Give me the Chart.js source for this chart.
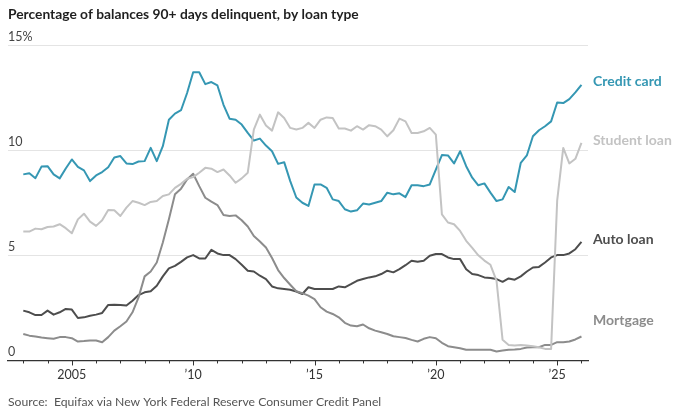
<!DOCTYPE html>
<html>
<head>
<meta charset="utf-8">
<script src="https://cdn.jsdelivr.net/npm/chart.js@4/dist/chart.umd.min.js"></script>
<style>
  html, body { margin: 0; padding: 0; background: #fff; }
  #wrap { width: 680px; height: 412px; position: relative; }
</style>
</head>
<body>
<div id="wrap"><canvas id="myChart"></canvas></div>
<script>
/* Data: quarterly, first quarter of 2003 through first quarter of 2026 */
var firstYear = 2003;

var creditCard = [8.85, 8.9, 8.67, 9.22, 9.24, 8.85, 8.66, 9.13, 9.56, 9.21, 9.04, 8.53, 8.8, 8.96, 9.19, 9.65,
  9.72, 9.37, 9.34, 9.46, 9.48, 10.11, 9.48, 10.19, 11.45, 11.74, 11.9, 12.72, 13.71, 13.71, 13.14, 13.24,
  13.08, 12.16, 11.5, 11.45, 11.22, 10.82, 10.46, 10.55, 10.22, 9.95, 9.35, 9.43, 8.53, 7.75, 7.5, 7.35,
  8.37, 8.37, 8.21, 7.66, 7.58, 7.19, 7.08, 7.14, 7.46, 7.42, 7.5, 7.58, 7.98, 7.9, 7.95, 7.77,
  8.33, 8.33, 8.29, 8.37, 9.08, 9.77, 9.75, 9.37, 9.95, 9.24, 8.69, 8.33, 8.42, 7.98, 7.58, 7.66,
  8.25, 8.01, 9.4, 9.75, 10.66, 10.95, 11.14, 11.37, 12.27, 12.24, 12.43, 12.75, 13.11];

var studentLoan = [6.13, 6.13, 6.27, 6.24, 6.35, 6.37, 6.48, 6.29, 6.05, 6.71, 6.98, 6.6, 6.4, 6.67, 7.16, 7.14,
  6.87, 7.27, 7.58, 7.5, 7.39, 7.54, 7.58, 7.82, 7.9, 8.21, 8.4, 8.64, 8.72, 8.93, 9.16, 9.12,
  8.96, 9.08, 8.8, 8.45, 8.66, 8.93, 10.98, 11.69, 11.17, 10.93, 11.8, 11.53, 11.06, 10.98, 11.06, 11.3,
  11.06, 11.45, 11.56, 11.53, 11.03, 11.03, 10.93, 11.14, 10.98, 11.19, 11.14, 10.98, 10.66, 10.95, 11.5, 11.37,
  10.82, 10.82, 10.9, 11.06, 10.74, 6.95, 6.56, 6.48, 6.16, 5.69, 5.35, 5.0, 4.75, 4.55, 3.8, 0.98,
  0.74, 0.71, 0.74, 0.71, 0.68, 0.63, 0.55, 0.55, 7.6, 10.11, 9.37, 9.59, 10.35];

var autoLoan = [2.37, 2.29, 2.16, 2.16, 2.37, 2.18, 2.29, 2.45, 2.42, 2.02, 2.05, 2.13, 2.18, 2.26, 2.64, 2.65,
  2.64, 2.61, 2.84, 3.11, 3.24, 3.29, 3.55, 4.0, 4.38, 4.5, 4.69, 4.9, 5.01, 4.85, 4.85, 5.26,
  5.09, 5.01, 5.01, 4.82, 4.55, 4.27, 4.23, 4.03, 3.87, 3.52, 3.43, 3.4, 3.36, 3.28, 3.16, 3.48,
  3.4, 3.4, 3.4, 3.4, 3.52, 3.48, 3.63, 3.79, 3.87, 3.95, 4.0, 4.11, 4.27, 4.19, 4.34, 4.53,
  4.74, 4.69, 4.74, 4.98, 5.06, 5.06, 4.9, 4.82, 4.82, 4.34, 4.11, 4.06, 3.95, 3.92, 3.87, 3.74,
  3.9, 3.84, 4.0, 4.23, 4.42, 4.45, 4.66, 4.9, 5.01, 5.01, 5.09, 5.29, 5.64];

var mortgage = [1.26, 1.18, 1.14, 1.09, 1.06, 1.03, 1.11, 1.11, 1.06, 0.9, 0.92, 0.95, 0.95, 0.87, 1.11, 1.42,
  1.63, 1.85, 2.29, 3.0, 4.0, 4.23, 4.66, 5.61, 6.71, 7.9, 8.17, 8.61, 8.88, 8.29, 7.74, 7.55,
  7.39, 6.92, 6.87, 6.9, 6.67, 6.37, 5.92, 5.66, 5.37, 4.87, 4.3, 3.92, 3.6, 3.29, 3.2, 3.08,
  2.92, 2.53, 2.32, 2.21, 2.05, 1.79, 1.66, 1.63, 1.71, 1.53, 1.42, 1.34, 1.26, 1.15, 1.11, 1.07,
  0.98, 0.9, 1.03, 1.11, 1.06, 0.84, 0.68, 0.63, 0.58, 0.51, 0.51, 0.51, 0.51, 0.51, 0.43, 0.47,
  0.51, 0.52, 0.55, 0.62, 0.63, 0.63, 0.74, 0.74, 0.87, 0.87, 0.9, 1.0, 1.14];

var seriesNames = ["Credit card", "Student loan", "Auto loan", "Mortgage"];
var yTickValues = [0, 5, 10, 15];
var yearTicks = [2003, 2004, 2005, 2006, 2007, 2008, 2009, 2010, 2011, 2012, 2013, 2014,
  2015, 2016, 2017, 2018, 2019, 2020, 2021, 2022, 2023, 2024, 2025, 2026];
var labeledYears = [2005, 2010, 2015, 2020, 2025];
var yearLabels = ["2005", "\u201910", "\u201915", "\u201920", "\u201925"];

/* Styling */
var FONT = 'Lato, "Liberation Sans", Arial, sans-serif';
var lineColors = ["#3597b3", "#c3c3c3", "#4d4d4d", "#8c8c8c"];
var labelSpot = [13.25, 10.45, 5.75, 1.9];   // where the right-hand names sit (in %)

function toPoints(values) {
  return values.map(function (v, i) { return { x: firstYear + i / 4, y: v }; });
}

var endLabels = {
  id: 'endLabels',
  afterDatasetsDraw: function (chart) {
    var ctx = chart.ctx, area = chart.chartArea, y = chart.scales.y;
    ctx.save();
    ctx.font = 'bold 14px ' + FONT;
    ctx.textAlign = 'left';
    ctx.textBaseline = 'middle';
    seriesNames.forEach(function (name, k) {
      ctx.fillStyle = lineColors[k];
      ctx.fillText(name, area.right + 5, y.getPixelForValue(labelSpot[k]));
    });
    ctx.restore();
  }
};

var yearMarks = {
  id: 'yearMarks',
  afterDraw: function (chart) {
    var ctx = chart.ctx, area = chart.chartArea, x = chart.scales.x;
    ctx.save();
    ctx.strokeStyle = '#333';
    ctx.lineWidth = 1;
    yearTicks.forEach(function (yr) {
      var px = Math.round(x.getPixelForValue(yr)) + 0.5;
      var len = labeledYears.indexOf(yr) >= 0 ? 5 : 3;
      ctx.beginPath();
      ctx.moveTo(px, area.bottom);
      ctx.lineTo(px, area.bottom + len);
      ctx.stroke();
    });
    ctx.restore();
  }
};

var order = [1, 3, 2, 0];   // draw credit card on top
var allSeries = [creditCard, studentLoan, autoLoan, mortgage];

new Chart("myChart", {
  type: "line",
  data: {
    datasets: order.map(function (k) {
      return {
        label: seriesNames[k],
        data: toPoints(allSeries[k]),
        borderColor: lineColors[k],
        borderWidth: 2,
        pointRadius: 0,
        tension: 0,
        borderJoinStyle: 'round',
        fill: false
      };
    })
  },
  options: {
    responsive: true,
    maintainAspectRatio: false,
    animation: false,
    layout: { padding: { left: 8, right: 92, top: 0, bottom: 2.4 } },
    plugins: {
      legend: { display: false },
      tooltip: { enabled: false },
      title: {
        display: true,
        text: "Percentage of balances 90+ days delinquent, by loan type",
        align: 'start',
        color: '#1f1f1f',
        font: { family: FONT, size: 13.8, weight: 'bold' },
        padding: { top: 6.5, bottom: 22 }
      },
      subtitle: {
        display: true,
        position: 'bottom',
        text: "Source:  Equifax via New York Federal Reserve Consumer Credit Panel",
        align: 'start',
        color: '#555',
        font: { family: FONT, size: 12.2 },
        padding: { top: 10.5, bottom: 0 }
      }
    },
    scales: {
      x: {
        type: 'linear',
        min: 2002.37,
        max: 2026.27,
        afterBuildTicks: function (scale) {
          scale.ticks = yearTicks.map(function (v) { return { value: v }; });
        },
        ticks: {
          autoSkip: false,
          maxRotation: 0,
          padding: 2,
          color: '#333',
          font: { family: FONT, size: 12.5 },
          callback: function (v) {
            var k = labeledYears.indexOf(v);
            return k >= 0 ? yearLabels[k] : '';
          }
        },
        grid: { drawOnChartArea: false, drawTicks: true, tickLength: 5, tickColor: 'rgba(0,0,0,0)' },
        border: { display: true, color: '#333', width: 1.3 }
      },
      y: {
        min: 0,
        max: 15,
        afterBuildTicks: function (scale) {
          scale.ticks = yTickValues.map(function (v) { return { value: v }; });
        },
        ticks: {
          mirror: true,
          padding: 0,
          labelOffset: -8,
          color: '#444',
          font: { family: FONT, size: 12.5 },
          callback: function (v) { return v === 15 ? '15%' : String(v); }
        },
        grid: { color: '#e4e4e4', lineWidth: 1, drawTicks: false },
        border: { display: false }
      }
    }
  },
  plugins: [endLabels, yearMarks]
});
</script>
</body>
</html>
